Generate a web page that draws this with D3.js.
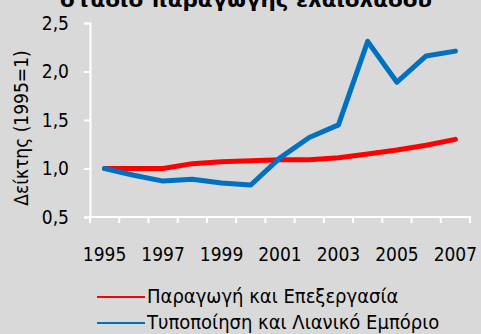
<!DOCTYPE html>
<html>
<head>
<meta charset="utf-8">
<script src="https://cdn.jsdelivr.net/npm/d3@7"></script>
<style>
  html, body { margin: 0; padding: 0; background: #d9d9d9; }
  svg { display: block; }
  text { font-family: "DejaVu Sans Condensed", "DejaVu Sans", sans-serif; fill: #000; }
</style>
</head>
<body>
<div id="chart"></div>
<script>
// Index values (1995 = 1) per stage of the olive-oil supply chain
const years = [1995, 1996, 1997, 1998, 1999, 2000, 2001, 2002, 2003, 2004, 2005, 2006, 2007];
const production = [1.00, 1.00, 1.00, 1.05, 1.07, 1.08, 1.09, 1.09, 1.11, 1.15, 1.19, 1.24, 1.30];
const retail = [1.00, 0.93, 0.87, 0.89, 0.85, 0.83, 1.11, 1.32, 1.45, 2.31, 1.89, 2.16, 2.21];
const yTicks = [0.5, 1.0, 1.5, 2.0, 2.5];
const xLabelYears = [1995, 1997, 1999, 2001, 2003, 2005, 2007];
const seriesNames = ["Παραγωγή και Επεξεργασία", "Τυποποίηση και Λιανικό Εμπόριο"];
const seriesColors = ["#ff0000", "#0070c0"];
const titleText = "στάδιο παραγωγής ελαιολάδου";
const yTitle = "Δείκτης (1995=1)";

const W = 481, H = 334;
const plot = { left: 90, right: 470, top: 23, bottom: 217 };

const svg = d3.select("#chart").append("svg")
  .attr("width", W).attr("height", H);

svg.append("rect").attr("width", W).attr("height", H).attr("fill", "#d9d9d9");

const x = d3.scaleBand().domain(years).range([plot.left, plot.right]).padding(0);
const y = d3.scaleLinear().domain([0.5, 2.5]).range([plot.bottom, plot.top]);
const cx = d => x(d) + x.bandwidth() / 2;

// Title (runs off the top edge)
svg.append("text")
  .attr("x", 246).attr("y", 7)
  .attr("text-anchor", "middle")
  .attr("font-weight", "bold")
  .attr("font-size", 20)
  .attr("textLength", 372)
  .attr("lengthAdjust", "spacingAndGlyphs")
  .text(titleText);

// Y axis
const yAxis = d3.axisLeft(y).tickValues(yTicks).tickSize(6).tickPadding(15)
  .tickFormat(d => d3.format(".1f")(d).replace(".", ","));
const gy = svg.append("g").attr("transform", `translate(${plot.left},0)`).call(yAxis);
gy.select(".domain").attr("stroke", "#fff").attr("stroke-width", 2);
gy.selectAll(".tick line").attr("stroke", "#fff").attr("stroke-width", 2);
gy.selectAll(".tick text").attr("font-size", 19).attr("font-family", "DejaVu Sans Condensed, DejaVu Sans, sans-serif").attr("fill", "#000");

// X axis: ticks sit between categories
const gx = svg.append("g").attr("transform", `translate(0,${plot.bottom})`);
gx.append("line")
  .attr("x1", plot.left - 1).attr("x2", plot.right + 1)
  .attr("stroke", "#fff").attr("stroke-width", 2);
const boundaries = years.map(d => x(d)).concat([x(years[years.length - 1]) + x.bandwidth()]);
gx.selectAll("line.tk").data(boundaries).join("line")
  .attr("class", "tk")
  .attr("x1", d => d).attr("x2", d => d)
  .attr("y1", 0).attr("y2", 6)
  .attr("stroke", "#fff").attr("stroke-width", 2);
gx.selectAll("text").data(xLabelYears).join("text")
  .attr("x", d => cx(d)).attr("y", 44)
  .attr("text-anchor", "middle")
  .attr("font-size", 19)
  .text(d => d);

// Y axis title
svg.append("text")
  .attr("transform", `translate(28,${(plot.top + plot.bottom) / 2 + 8}) rotate(-90)`)
  .attr("text-anchor", "middle")
  .attr("font-size", 19)
  .text(yTitle);

// Lines
const line = d3.line().x((d, i) => cx(years[i])).y(d => y(d));
[production, retail].forEach((vals, i) => {
  svg.append("path")
    .datum(vals)
    .attr("d", line)
    .attr("fill", "none")
    .attr("stroke", seriesColors[i])
    .attr("stroke-width", 5)
    .attr("stroke-linejoin", "round")
    .attr("stroke-linecap", "round");
});

// Legend
const legend = svg.append("g");
seriesNames.forEach((name, i) => {
  const ly = 297 + i * 26;
  legend.append("line")
    .attr("x1", 97).attr("x2", 145)
    .attr("y1", ly).attr("y2", ly)
    .attr("stroke", seriesColors[i]).attr("stroke-width", 2);
  legend.append("text")
    .attr("x", 147).attr("y", ly + 6)
    .attr("font-size", 20)
    .text(name);
});
</script>
</body>
</html>
